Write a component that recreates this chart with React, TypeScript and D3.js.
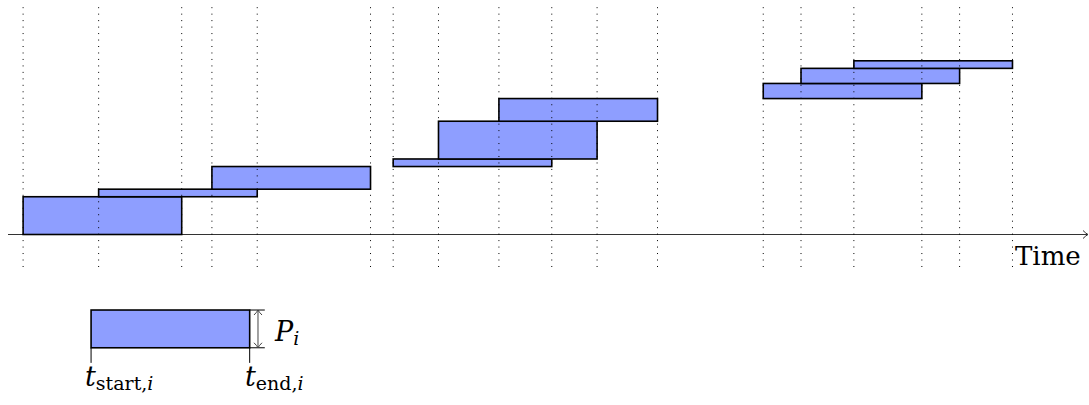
import React from "react";
import * as d3 from "d3";

// Task data (time units, power units)
const taskIds = ["T1", "T2", "T3", "T4", "T5", "T6", "T7", "T8", "T9"];
const startTimes = [0, 10, 25, 49, 55, 63, 98, 103, 110];
const durations = [21, 21, 21, 21, 21, 21, 21, 21, 21];
const powers = [5, 1, 3, 1, 5, 3, 2, 2, 1];

// Legend example task
const legendStart = [9];
const legendDuration = [21];
const legendBase = [-15];
const legendPower = [5];

const axisLabel = "Time";

const W = 1089;
const H = 405;
const FILL = "#8e9eff";
const FONT = "'DejaVu Serif', serif";

export default function App() {
  const x = d3.scaleLinear().domain([-2, 141]).range([8, 1088]);
  const y = d3.scaleLinear().domain([0, 31]).range([234.5, 234.5 - 31 * 7.552]);

  // cumulative bases
  const bases: number[] = [];
  let acc = 0;
  powers.forEach((p) => {
    bases.push(acc);
    acc += p;
  });

  const times: number[] = [];
  startTimes.forEach((s, i) => {
    times.push(s);
    times.push(s + durations[i]);
  });

  const lineTop = 30.1;
  const lineBottom = -4.6;

  const ax0 = x(-2);
  const ax1 = x(141);
  const ay = y(0);

  const ls = legendStart[0];
  const le = ls + legendDuration[0];
  const lb = legendBase[0];
  const lt = lb + legendPower[0];
  const arrowX = x(le + 1.1);

  return (
    <svg
      width={W}
      height={H}
      style={{ position: "absolute", left: 0, top: 0, background: "#fff" }}
    >
      <rect x={0} y={0} width={W} height={H} fill="#fff" />
      {/* time axis */}
      <line x1={ax0} x2={ax1} y1={ay} y2={ay} stroke="#333" strokeWidth={1.2} />
      <path
        d={`M${ax1 - 5},${ay - 4} Q${ax1 - 2},${ay - 1} ${ax1},${ay} Q${ax1 - 2},${ay + 1} ${ax1 - 5},${ay + 4}`}
        fill="none"
        stroke="#333"
        strokeWidth={1}
      />
      {/* task boxes */}
      {taskIds.map((id, i) => (
        <rect
          key={id}
          x={x(startTimes[i])}
          y={y(bases[i] + powers[i])}
          width={x(startTimes[i] + durations[i]) - x(startTimes[i])}
          height={y(bases[i]) - y(bases[i] + powers[i])}
          fill={FILL}
          stroke="#000"
          strokeWidth={1.6}
        />
      ))}
      {/* dotted guide lines */}
      {times.map((t, i) => (
        <line
          key={"g" + i}
          x1={x(t)}
          x2={x(t)}
          y1={y(lineTop)}
          y2={y(lineBottom)}
          stroke="#000"
          strokeWidth={1}
          strokeDasharray="1 5.47"
        />
      ))}
      {/* Time label */}
      <text x={1015} y={265} fontFamily={FONT} fontSize={26} fill="#000">
        {axisLabel}
      </text>

      {/* legend box */}
      <rect
        x={x(ls)}
        y={y(lt)}
        width={x(le) - x(ls)}
        height={y(lb) - y(lt)}
        fill={FILL}
        stroke="#000"
        strokeWidth={1.6}
      />
      <line x1={x(ls)} x2={x(ls)} y1={y(lb)} y2={y(lb - 2)} stroke="#000" strokeWidth={1} />
      <line x1={x(le)} x2={x(le)} y1={y(lb)} y2={y(lb - 2)} stroke="#000" strokeWidth={1} />
      <line x1={x(le)} x2={x(le + 2)} y1={y(lt)} y2={y(lt)} stroke="#000" strokeWidth={1} />
      <line x1={x(le)} x2={x(le + 2)} y1={y(lb)} y2={y(lb)} stroke="#000" strokeWidth={1} />
      <line x1={arrowX} x2={arrowX} y1={y(lt)} y2={y(lb)} stroke="#444" strokeWidth={1} />
      <path
        d={`M${arrowX - 4},${y(lt) + 5} Q${arrowX - 1},${y(lt) + 2} ${arrowX},${y(lt)} Q${arrowX + 1},${y(lt) + 2} ${arrowX + 4},${y(lt) + 5}`}
        fill="none"
        stroke="#444"
        strokeWidth={1}
      />
      <path
        d={`M${arrowX - 4},${y(lb) - 5} Q${arrowX - 1},${y(lb) - 2} ${arrowX},${y(lb)} Q${arrowX + 1},${y(lb) - 2} ${arrowX + 4},${y(lb) - 5}`}
        fill="none"
        stroke="#444"
        strokeWidth={1}
      />
      <text x={275} y={341} fontFamily={FONT} fontSize={27} fill="#000">
        <tspan fontStyle="italic">P</tspan>
        <tspan fontStyle="italic" fontSize={19} dy={4}>i</tspan>
      </text>
      <text x={85} y={386} fontFamily={FONT} fontSize={27} fill="#000">
        <tspan fontStyle="italic">t</tspan>
        <tspan fontSize={19} dy={4}>start,</tspan>
        <tspan fontSize={19} fontStyle="italic">i</tspan>
      </text>
      <text x={245} y={386} fontFamily={FONT} fontSize={27} fill="#000">
        <tspan fontStyle="italic">t</tspan>
        <tspan fontSize={19} dy={4}>end,</tspan>
        <tspan fontSize={19} fontStyle="italic">i</tspan>
      </text>
    </svg>
  );
}
